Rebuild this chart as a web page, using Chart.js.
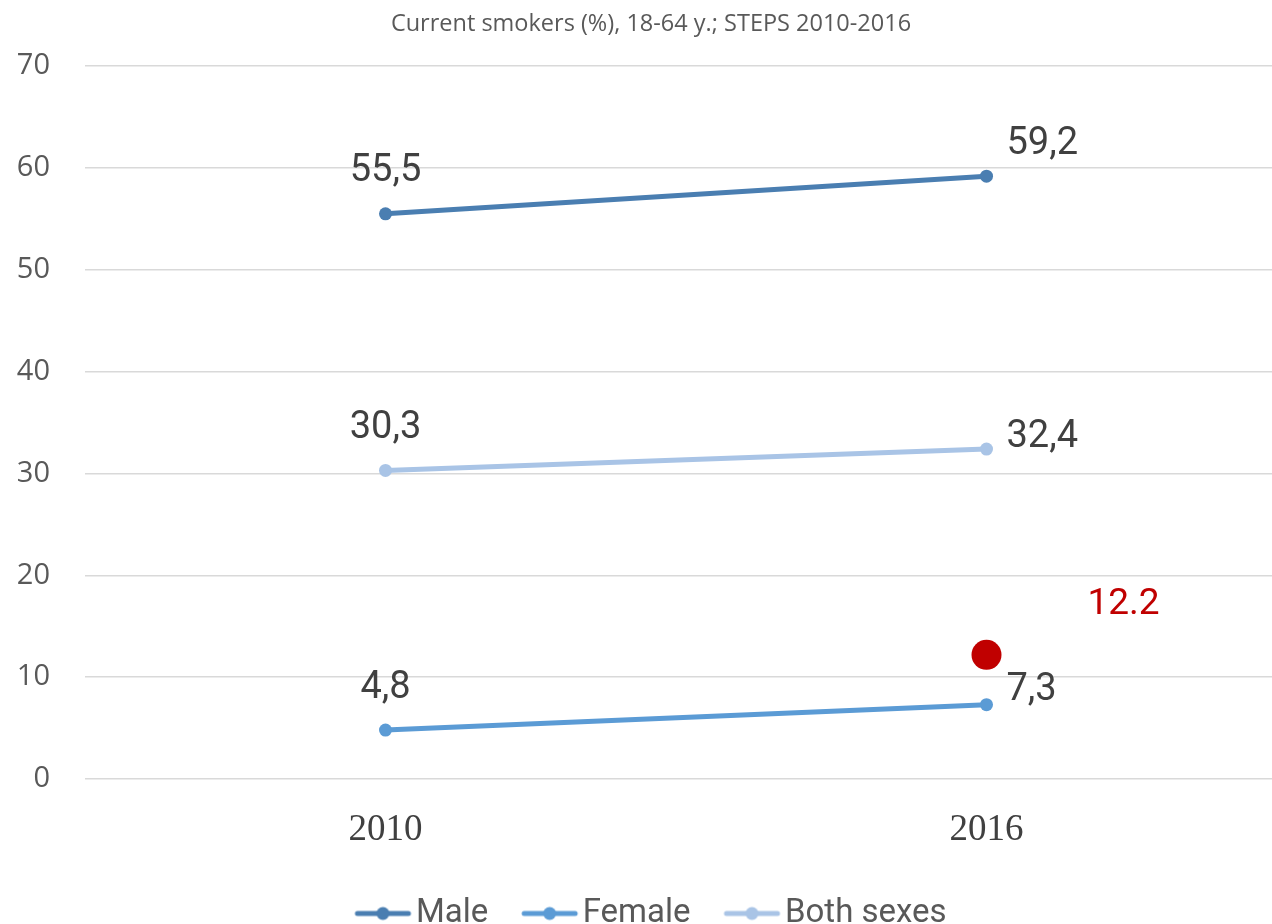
<!DOCTYPE html>
<html>
<head>
<meta charset="utf-8">
<script src="https://cdn.jsdelivr.net/npm/chart.js@4"></script>
<style>
  html, body { margin: 0; padding: 0; background: #ffffff; overflow: hidden; }
  #wrap { position: relative; width: 1302px; height: 940px; }
</style>
</head>
<body>
<div id="wrap"><canvas id="c" width="1302" height="940"></canvas></div>
<script>
// Survey years on the category axis
const years = ['2010', '2016'];
// Current smokers (%), 18-64 y.
const male = [55.5, 59.2];
const female = [4.8, 7.3];
const bothSexes = [30.3, 32.4];
// Single highlighted value shown beside the 2016 point
const highlight = [null, 12.2];
// Value axis
const yMin = 0;
const yMax = 70;
const yStep = 10;

const titleText = 'Current smokers (%), 18-64 y.; STEPS 2010-2016';

const COLORS = {
  male: '#4a7eb1',
  female: '#5b9bd5',
  both: '#a9c4e6',
  red: '#c00000',
  grid: '#d9d9d9',
  text: '#404040',
  axis: '#595959'
};

const SANS = 'Roboto, "Open Sans", sans-serif';

// Legend swatch: short line with a round marker in the middle.
// The canvas is wider than the line so the line sits close to the text.
function swatch(color) {
  const c = document.createElement('canvas');
  c.width = 80; c.height = 16;
  const g = c.getContext('2d');
  g.strokeStyle = color;
  g.lineWidth = 5;
  g.lineCap = 'round';
  g.beginPath(); g.moveTo(20, 8); g.lineTo(71, 8); g.stroke();
  g.fillStyle = color;
  g.beginPath(); g.arc(45.5, 8, 6.5, 0, Math.PI * 2); g.fill();
  return c;
}

const fmtComma = v => String(v).replace('.', ',');

// Value labels next to each point
const valueLabels = {
  id: 'valueLabels',
  afterDatasetsDraw(chart) {
    const ctx = chart.ctx;
    chart.data.datasets.forEach((ds, di) => {
      const meta = chart.getDatasetMeta(di);
      if (meta.hidden) return;
      meta.data.forEach((pt, i) => {
        const v = ds.data[i];
        if (v === null || v === undefined) return;
        ctx.save();
        ctx.textBaseline = 'middle';
        if (ds.isHighlight) {
          ctx.font = '37px ' + SANS;
          ctx.fillStyle = COLORS.red;
          ctx.textAlign = 'left';
          ctx.fillText(String(v), pt.x + 101, pt.y - 50);
        } else {
          ctx.font = '38px ' + SANS;
          ctx.fillStyle = COLORS.text;
          if (i === 0) {
            ctx.textAlign = 'center';
            ctx.fillText(fmtComma(v), pt.x, pt.y - 42);
          } else {
            ctx.textAlign = 'left';
            ctx.fillText(fmtComma(v), pt.x + 20, pt.y + ds.labelLift);
          }
        }
        ctx.restore();
      });
    });
  }
};

const lineDataset = (label, data, color, extra) => Object.assign({
  label,
  data,
  borderColor: color,
  backgroundColor: color,
  borderWidth: 5,
  pointRadius: 6.5,
  pointHoverRadius: 6.5,
  pointBackgroundColor: color,
  pointBorderWidth: 0,
  tension: 0
}, extra || {});

new Chart(document.getElementById('c'), {
  type: 'line',
  data: {
    labels: years,
    datasets: [
      lineDataset('Male', male, COLORS.male, { labelLift: -32 }),
      lineDataset('Female', female, COLORS.female, { labelLift: -14 }),
      lineDataset('Both sexes', bothSexes, COLORS.both, { labelLift: -12 }),
      {
        label: '',
        data: highlight,
        isHighlight: true,
        showLine: false,
        borderColor: COLORS.red,
        backgroundColor: COLORS.red,
        pointBackgroundColor: COLORS.red,
        pointBorderWidth: 0,
        pointRadius: 15,
        pointHoverRadius: 15
      }
    ]
  },
  options: {
    responsive: false,
    animation: false,
    events: [],
    layout: { padding: { left: 0, right: 0, top: 0, bottom: 0 } },
    plugins: {
      tooltip: { enabled: false },
      title: {
        display: true,
        text: titleText,
        color: COLORS.axis,
        font: { family: '"Open Sans", sans-serif', size: 23.5, weight: 'normal' },
        padding: { top: 10, bottom: 28 }
      },
      legend: {
        position: 'bottom',
        labels: {
          usePointStyle: true,
          pointStyleWidth: 44,
          color: COLORS.axis,
          font: { family: SANS, size: 33 },
          padding: 34,
          generateLabels(chart) {
            return chart.data.datasets
              .filter(ds => !ds.isHighlight)
              .map((ds, i) => ({
                text: ds.label,
                pointStyle: swatch(ds.borderColor),
                fillStyle: ds.borderColor,
                strokeStyle: ds.borderColor,
                fontColor: COLORS.axis,
                lineWidth: 0,
                hidden: false,
                datasetIndex: i
              }));
          }
        }
      }
    },
    scales: {
      x: {
        offset: true,
        grid: { display: false, drawTicks: false },
        border: { display: false },
        ticks: {
          color: COLORS.text,
          font: { family: '"Liberation Serif", serif', size: 37 },
          padding: 29
        },
        afterFit(scale) { scale.height = 84; }
      },
      y: {
        min: yMin,
        max: yMax,
        grid: { color: COLORS.grid, lineWidth: 1.5, drawTicks: false },
        border: { display: false },
        ticks: {
          stepSize: yStep,
          color: COLORS.axis,
          font: { family: '"Open Sans", sans-serif', size: 29 },
          padding: 35
        },
        afterFit(scale) { scale.width = 85; }
      }
    }
  },
  plugins: [valueLabels]
});
</script>
</body>
</html>
